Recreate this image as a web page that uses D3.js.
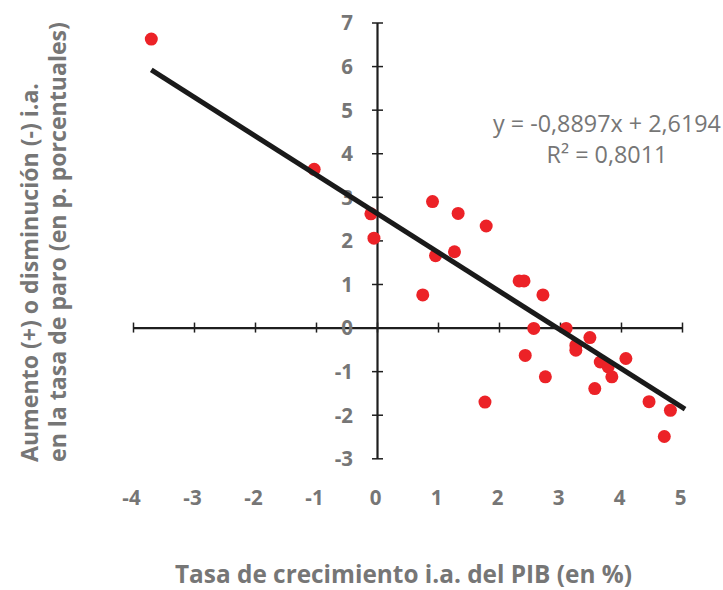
<!DOCTYPE html>
<html>
<head>
<meta charset="utf-8">
<script src="https://cdn.jsdelivr.net/npm/d3@7"></script>
<style>
  html, body { margin: 0; padding: 0; background: #fff; }
  svg { display: block; }
</style>
</head>
<body>
<svg id="chart" width="723" height="590"></svg>
<script>
// ---- Data ----
const gdpGrowth = [-3.70, -1.03, -0.10, -0.05, 0.91, 1.33, 1.79, 0.96, 1.27, 0.75,
                   1.77, 2.33, 2.41, 2.72, 2.57, 3.10, 3.49, 3.26, 3.26, 2.43,
                   4.08, 3.66, 3.79, 3.85, 2.76, 3.57, 4.46, 4.81, 4.71];
const unempChange = [6.62, 3.63, 2.61, 2.05, 2.89, 2.62, 2.33, 1.65, 1.74, 0.75,
                     -1.71, 1.07, 1.07, 0.75, -0.02, -0.02, -0.23, -0.41, -0.52, -0.64,
                     -0.71, -0.79, -0.90, -1.13, -1.13, -1.40, -1.70, -1.90, -2.50];
const xTicks = [-4, -3, -2, -1, 0, 1, 2, 3, 4, 5];
const yTicks = [-3, -2, -1, 0, 1, 2, 3, 4, 5, 6, 7];
const trendCoef = [-0.8897, 2.6194];   // slope, intercept
const trendRange = [-3.70, 5.05];
const eqLabels = ["y = -0,8897x + 2,6194", "R² = 0,8011"];
const xTitle = "Tasa de crecimiento i.a. del PIB (en %)";
const yTitleLines = ["Aumento (+) o disminución (-) i.a.", "en la tasa de paro (en p. porcentuales)"];

const points = gdpGrowth.map((g, i) => ({x: g, y: unempChange[i]}));

const svg = d3.select("#chart");
const x = d3.scaleLinear().domain([-4, 5]).range([133, 682]);
const y = d3.scaleLinear().domain([-3, 7]).range([458.3, 22.5]);

const gray = "#767676";
const axisColor = "#1e1e1e";
const font = "'Open Sans', sans-serif";

// fit a text element's font size so that its width matches a target
function fitWidth(sel, target) {
  sel.each(function() {
    const len = this.getComputedTextLength();
    const fs = parseFloat(this.style.fontSize);
    if (len > 0) this.style.fontSize = (fs * target / len).toFixed(2) + "px";
  });
}

// ---- X axis ----
const xAxis = svg.append("g")
  .attr("transform", `translate(0,${y(0)})`)
  .call(d3.axisBottom(x).tickValues(xTicks).tickSize(5).tickSizeOuter(0).tickFormat(d3.format("d")));
xAxis.select(".domain").attr("stroke", axisColor).attr("stroke-width", 2.2);
xAxis.selectAll(".tick line").attr("y1", -5).attr("y2", 5).attr("stroke", axisColor).attr("stroke-width", 1.5);
xAxis.selectAll(".tick text")
  .attr("y", 498 - y(0)).attr("dy", "0.36em").attr("dx", -2)
  .attr("fill", gray)
  .style("font-family", font).style("font-weight", "bold").style("font-size", "20.5px")
  .text(d => d < 0 ? "-" + Math.abs(d) : d);

// ---- Y axis ----
const yAxis = svg.append("g")
  .attr("transform", `translate(${x(0)},0)`)
  .call(d3.axisLeft(y).tickValues(yTicks).tickSize(5).tickSizeOuter(0).tickFormat(d3.format("d")));
yAxis.select(".domain").attr("stroke", axisColor).attr("stroke-width", 2.2);
yAxis.selectAll(".tick line").attr("x1", -5).attr("x2", 6).attr("stroke", axisColor).attr("stroke-width", 1.5);
yAxis.selectAll(".tick text")
  .attr("x", 353 - x(0)).attr("dy", "0.36em")
  .attr("fill", gray)
  .style("font-family", font).style("font-weight", "bold").style("font-size", "20.5px")
  .text(d => d < 0 ? "-" + Math.abs(d) : d);

xAxis.select(".domain").raise();
yAxis.select(".domain").raise();

// ---- Points ----
svg.append("g").selectAll("circle")
  .data(points)
  .join("circle")
  .attr("cx", d => x(d.x))
  .attr("cy", d => y(d.y))
  .attr("r", 6.5)
  .attr("fill", "#ec2227");

// ---- Trend line ----
const trendData = trendRange.map(v => ({x: v, y: trendCoef[0] * v + trendCoef[1]}));
svg.append("path")
  .datum(trendData)
  .attr("d", d3.line().x(d => x(d.x)).y(d => y(d.y)))
  .attr("stroke", "#1a1a1a")
  .attr("stroke-width", 5)
  .attr("fill", "none");

// ---- Equation ----
const eq = svg.append("g").selectAll("text")
  .data(eqLabels)
  .join("text")
  .attr("x", 607)
  .attr("y", (d, i) => 132 + i * 31)
  .attr("text-anchor", "middle")
  .attr("fill", gray)
  .style("font-family", font).style("font-size", "19px")
  .text(d => d);
fitWidth(eq.filter((d, i) => i === 0), 228);
eq.filter((d, i) => i === 1).style("font-size", eq.filter((d, i) => i === 0).style("font-size"));

// ---- Axis titles ----
const xt = svg.append("text")
  .attr("x", 403.5).attr("y", 583)
  .attr("text-anchor", "middle")
  .attr("fill", gray)
  .style("font-family", font).style("font-weight", "bold").style("font-size", "20px")
  .text(xTitle);
fitWidth(xt, 457);

const yt = svg.append("g").selectAll("text")
  .data(yTitleLines)
  .join("text")
  .attr("transform", (d, i) => `translate(${38 + i * 28},462) rotate(-90)`)
  .attr("text-anchor", "start")
  .attr("fill", gray)
  .style("font-family", font).style("font-weight", "bold").style("font-size", "20px")
  .text(d => d);
fitWidth(yt.filter((d, i) => i === 1), 440);
yt.filter((d, i) => i === 0).style("font-size", yt.filter((d, i) => i === 1).style("font-size"));
</script>
</body>
</html>
